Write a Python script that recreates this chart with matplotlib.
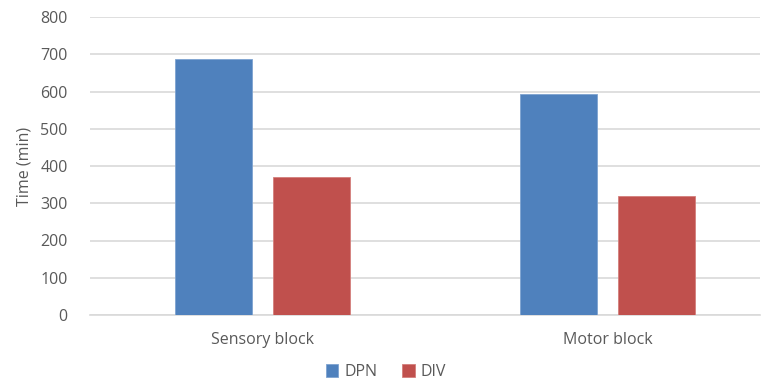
import numpy as np
import matplotlib
matplotlib.use("Agg")
from matplotlib import pyplot as plt

categories = ["Sensory block", "Motor block"]
series_names = ["DPN", "DIV"]
dpn_values = [686, 593]
div_values = [371, 319]
y_ticks = [0, 100, 200, 300, 400, 500, 600, 700, 800]

colors = ["#4f81bd", "#c0504d"]
text_color = "#595959"
grid_color = "#d9d9d9"

plt.rcParams['font.family'] = ['Open Sans', 'DejaVu Sans']

fig = plt.figure(figsize=(7.72, 3.83), dpi=100)
ax = fig.add_axes([90 / 772, (383 - 315) / 383, 670 / 772, (315 - 17) / 383])

x = np.arange(len(categories))
width = 0.223
offset = 0.142
ax.bar(x - offset, dpn_values, width, color=colors[0], edgecolor="#7ea3d0",
       linewidth=0.6, label=series_names[0], zorder=3)
ax.bar(x + offset, div_values, width, color=colors[1], edgecolor="#d47f7c",
       linewidth=0.6, label=series_names[1], zorder=3)

ax.set_xlim(-0.5, -0.5 + 670 / 345)
ax.set_ylim(0, 800)
ax.set_yticks(y_ticks)
ax.set_xticks(x)
ax.set_xticklabels(categories)
ax.yaxis.grid(True, color=grid_color, linewidth=1.2, zorder=0)
ax.set_axisbelow(True)
for side in ["top", "right", "left"]:
    ax.spines[side].set_visible(False)
ax.spines["bottom"].set_color(grid_color)
ax.spines["bottom"].set_linewidth(1.2)
ax.tick_params(axis="both", length=0, colors=text_color, labelsize=11.5)
ax.tick_params(axis="y", pad=16)
ax.tick_params(axis="x", pad=12)
ax.set_ylabel("Time (min)", color=text_color, fontsize=11.5, labelpad=6)

leg = fig.legend(loc="lower center", bbox_to_anchor=(0.5, -0.03), ncol=2,
                 frameon=False, fontsize=11.5, handlelength=0.8,
                 handleheight=0.8, columnspacing=1.5, handletextpad=0.4)
for t in leg.get_texts():
    t.set_color(text_color)

fig.savefig("out.png", dpi=100)
